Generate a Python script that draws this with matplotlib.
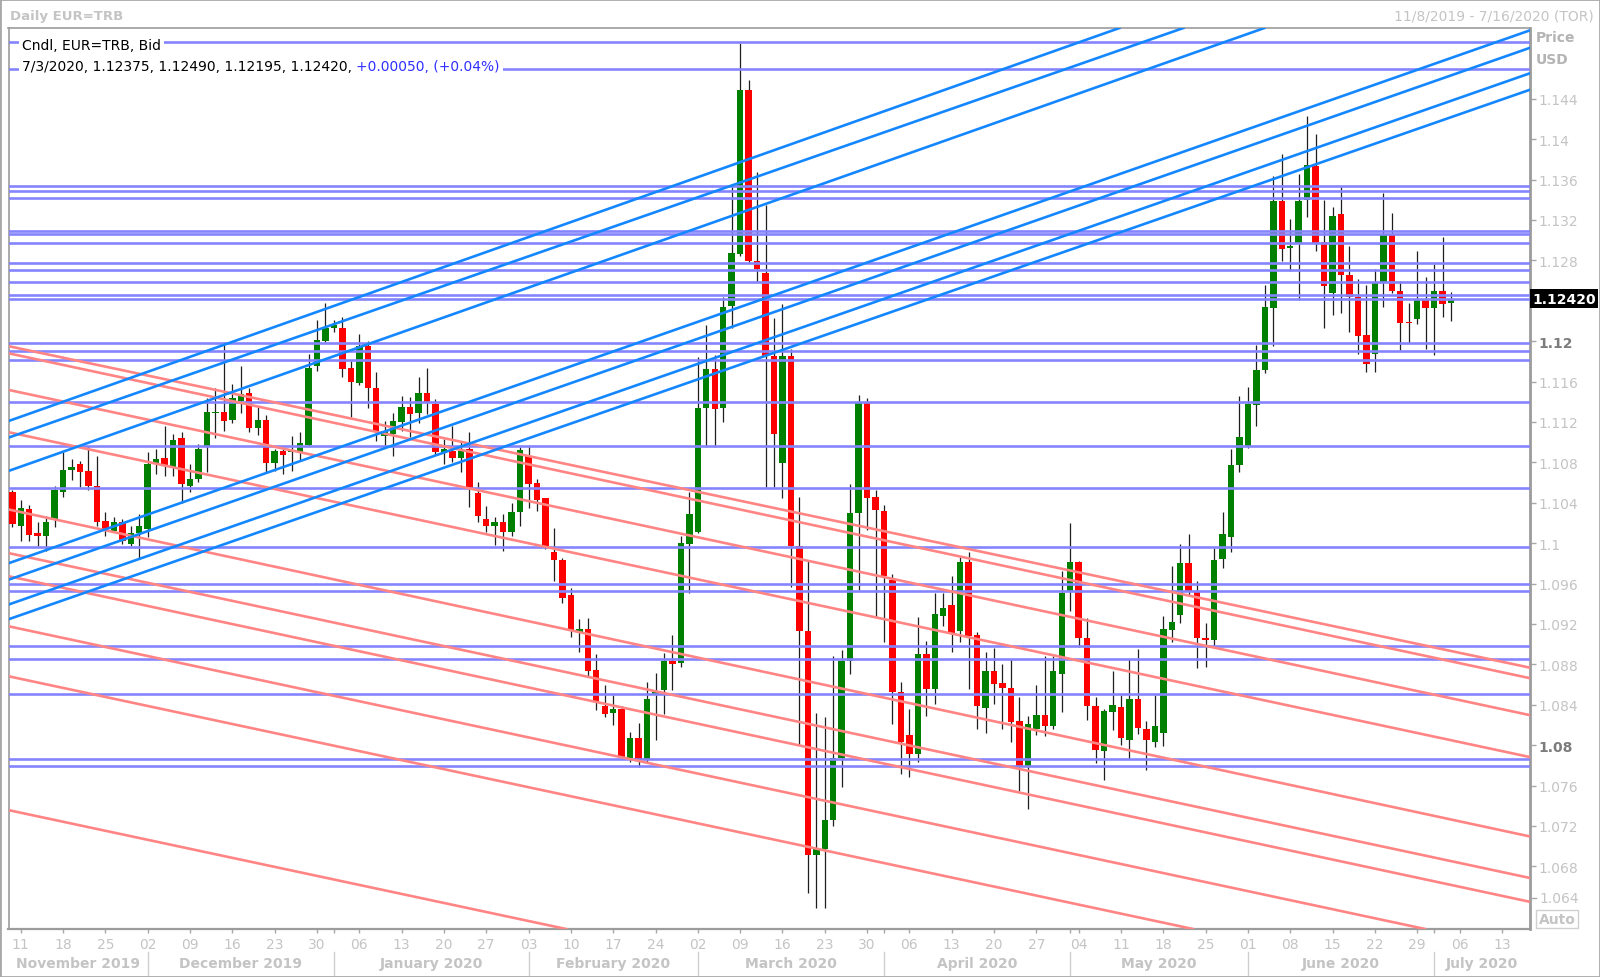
import numpy as np
import pandas as pd
import matplotlib.pyplot as plt
from matplotlib.patches import Rectangle
import matplotlib.transforms as mtransforms

# Daily EUR=TRB candles, one per weekday from 2019-11-08 to 2020-07-03
opens = [1.1051, 1.1017, 1.1034, 1.1010, 1.1007, 1.1024, 1.1051, 1.1072, 1.1078, 1.1071,
         1.1057, 1.1022, 1.1012, 1.1021, 1.0999, 1.1010, 1.1014, 1.1078, 1.1084, 1.1075,
         1.1104, 1.1057, 1.1064, 1.1096, 1.1129, 1.1130, 1.1122, 1.1141, 1.1149, 1.1114,
         1.1122, 1.1079, 1.1091, 1.1090, 1.1090, 1.1097, 1.1175, 1.1200, 1.1213, 1.1213,
         1.1173, 1.1159, 1.1195, 1.1154, 1.1106, 1.1108, 1.1120, 1.1135, 1.1129, 1.1149,
         1.1138, 1.1090, 1.1091, 1.1084, 1.1093, 1.1050, 1.1024, 1.1017, 1.1021, 1.1011,
         1.1031, 1.1086, 1.1060, 1.1045, 1.0991, 1.0983, 1.0949, 1.0912, 1.0915, 1.0874,
         1.0839, 1.0832, 1.0836, 1.0787, 1.0807, 1.0786, 1.0850, 1.0855, 1.0883, 1.0881,
         1.0999, 1.1011, 1.1134, 1.1172, 1.1134, 1.1235, 1.1286, 1.1449, 1.1279, 1.1267,
         1.1185, 1.1079, 1.1185, 1.0997, 1.0913, 1.0691, 1.0697, 1.0726, 1.0787, 1.0883,
         1.1030, 1.1139, 1.1046, 1.1032, 1.0964, 1.0853, 1.0810, 1.0791, 1.0890, 1.0856,
         1.0928, 1.0939, 1.0913, 1.0981, 1.0909, 1.0837, 1.0873, 1.0862, 1.0857, 1.0824,
         1.0779, 1.0816, 1.0830, 1.0819, 1.0870, 1.0953, 1.0981, 1.0906, 1.0839, 1.0794,
         1.0833, 1.0838, 1.0805, 1.0846, 1.0816, 1.0803, 1.0812, 1.0914, 1.0929, 1.0980,
         1.0953, 1.0906, 1.0904, 1.0984, 1.1006, 1.1077, 1.1096, 1.1137, 1.1171, 1.1233,
         1.1339, 1.1292, 1.1297, 1.1340, 1.1373, 1.1298, 1.1248, 1.1326, 1.1265, 1.1244,
         1.1206, 1.1187, 1.1259, 1.1305, 1.1250, 1.1219, 1.1222, 1.1242, 1.1233, 1.1250,
         1.12375]
highs = [1.1053, 1.1043, 1.1038, 1.1021, 1.1027, 1.1057, 1.1090, 1.1083, 1.1081, 1.1096,
         1.1086, 1.1031, 1.1026, 1.1024, 1.1017, 1.1029, 1.1090, 1.1093, 1.1116, 1.1108,
         1.1110, 1.1078, 1.1098, 1.1144, 1.1154, 1.1199, 1.1158, 1.1175, 1.1154, 1.1135,
         1.1127, 1.1093, 1.1095, 1.1106, 1.1110, 1.1187, 1.1221, 1.1238, 1.1221, 1.1224,
         1.1180, 1.1207, 1.1200, 1.1169, 1.1121, 1.1129, 1.1146, 1.1145, 1.1164, 1.1173,
         1.1143, 1.1103, 1.1116, 1.1100, 1.1110, 1.1061, 1.1037, 1.1026, 1.1029, 1.1040,
         1.1095, 1.1097, 1.1064, 1.1045, 1.1015, 1.0985, 1.0956, 1.0925, 1.0926, 1.0890,
         1.0860, 1.0850, 1.0839, 1.0813, 1.0822, 1.0863, 1.0871, 1.0891, 1.0909, 1.1007,
         1.1051, 1.1184, 1.1216, 1.1186, 1.1244, 1.1355, 1.1495, 1.1459, 1.1367, 1.1335,
         1.1223, 1.1237, 1.1192, 1.1046, 1.0982, 1.0832, 1.0828, 1.0888, 1.0894, 1.1059,
         1.1147, 1.1144, 1.1053, 1.1038, 1.0969, 1.0863, 1.0836, 1.0927, 1.0903, 1.0951,
         1.0951, 1.0967, 1.0986, 1.0991, 1.0912, 1.0892, 1.0896, 1.0880, 1.0885, 1.0848,
         1.0829, 1.0860, 1.0888, 1.0888, 1.0972, 1.1020, 1.0982, 1.0926, 1.0848, 1.0836,
         1.0873, 1.0850, 1.0885, 1.0895, 1.0824, 1.0850, 1.0928, 1.0977, 1.0999, 1.1009,
         1.0963, 1.0921, 1.0995, 1.1031, 1.1093, 1.1146, 1.1155, 1.1196, 1.1256, 1.1363,
         1.1385, 1.1321, 1.1365, 1.1423, 1.1405, 1.1340, 1.1333, 1.1353, 1.1294, 1.1262,
         1.1256, 1.1271, 1.1347, 1.1327, 1.1260, 1.1238, 1.1289, 1.1263, 1.1276, 1.1303,
         1.12490]
lows = [1.1016, 1.1002, 1.1002, 1.0997, 1.0992, 1.1016, 1.1046, 1.1063, 1.1056, 1.1053,
        1.1017, 1.1007, 1.1011, 1.0999, 1.0997, 1.0984, 1.1006, 1.1068, 1.1066, 1.1066,
        1.1040, 1.1051, 1.1061, 1.1070, 1.1104, 1.1111, 1.1119, 1.1129, 1.1110, 1.1107,
        1.1070, 1.1071, 1.1068, 1.1071, 1.1081, 1.1096, 1.1170, 1.1199, 1.1209, 1.1164,
        1.1125, 1.1157, 1.1134, 1.1101, 1.1095, 1.1086, 1.1111, 1.1105, 1.1119, 1.1128,
        1.1087, 1.1078, 1.1080, 1.1070, 1.1036, 1.1021, 1.1011, 1.0998, 1.0992, 1.1007,
        1.1017, 1.1035, 1.1032, 1.0994, 1.0963, 1.0941, 1.0907, 1.0892, 1.0868, 1.0835,
        1.0828, 1.0820, 1.0786, 1.0783, 1.0778, 1.0783, 1.0805, 1.0831, 1.0855, 1.0877,
        1.0951, 1.1010, 1.1095, 1.1095, 1.1120, 1.1213, 1.1284, 1.1277, 1.1259, 1.1056,
        1.1056, 1.1045, 1.0957, 1.0800, 1.0654, 1.0639, 1.0639, 1.0720, 1.0759, 1.0870,
        1.0954, 1.1013, 1.0927, 1.0902, 1.0821, 1.0771, 1.0768, 1.0783, 1.0829, 1.0841,
        1.0918, 1.0892, 1.0902, 1.0856, 1.0816, 1.0812, 1.0841, 1.0816, 1.0803, 1.0755,
        1.0737, 1.0810, 1.0809, 1.0816, 1.0833, 1.0933, 1.0897, 1.0825, 1.0782, 1.0766,
        1.0815, 1.0800, 1.0786, 1.0811, 1.0775, 1.0798, 1.0799, 1.0902, 1.0921, 1.0948,
        1.0876, 1.0877, 1.0896, 1.0975, 1.0991, 1.1070, 1.1094, 1.1116, 1.1168, 1.1195,
        1.1279, 1.1269, 1.1241, 1.1323, 1.1289, 1.1213, 1.1226, 1.1228, 1.1209, 1.1187,
        1.1169, 1.1169, 1.1234, 1.1248, 1.1191, 1.1198, 1.1217, 1.1192, 1.1186, 1.1224,
        1.12195]
closes = [1.1019, 1.1035, 1.1008, 1.1007, 1.1021, 1.1053, 1.1072, 1.1075, 1.1070, 1.1057,
          1.1021, 1.1014, 1.1021, 1.1002, 1.1010, 1.1017, 1.1078, 1.1083, 1.1076, 1.1102,
          1.1059, 1.1064, 1.1093, 1.1130, 1.1130, 1.1121, 1.1144, 1.1148, 1.1114, 1.1122,
          1.1079, 1.1091, 1.1087, 1.1091, 1.1099, 1.1173, 1.1201, 1.1213, 1.1216, 1.1172,
          1.1160, 1.1195, 1.1154, 1.1110, 1.1111, 1.1121, 1.1135, 1.1128, 1.1149, 1.1140,
          1.1090, 1.1093, 1.1084, 1.1091, 1.1055, 1.1027, 1.1017, 1.1021, 1.1011, 1.1031,
          1.1092, 1.1059, 1.1043, 1.0997, 1.0983, 1.0946, 1.0913, 1.0915, 1.0873, 1.0843,
          1.0831, 1.0836, 1.0787, 1.0807, 1.0786, 1.0846, 1.0853, 1.0883, 1.0880, 1.1000,
          1.1029, 1.1134, 1.1172, 1.1133, 1.1234, 1.1287, 1.1449, 1.1279, 1.1271, 1.1185,
          1.1108, 1.1185, 1.0997, 1.0913, 1.0691, 1.0697, 1.0726, 1.0787, 1.0883, 1.1030,
          1.1139, 1.1045, 1.1033, 1.0967, 1.0853, 1.0803, 1.0791, 1.0890, 1.0856, 1.0930,
          1.0936, 1.0910, 1.0981, 1.0908, 1.0839, 1.0873, 1.0861, 1.0857, 1.0823, 1.0778,
          1.0821, 1.0830, 1.0819, 1.0873, 1.0951, 1.0981, 1.0906, 1.0839, 1.0795, 1.0834,
          1.0840, 1.0807, 1.0846, 1.0817, 1.0805, 1.0819, 1.0915, 1.0922, 1.0980, 1.0953,
          1.0906, 1.0904, 1.0983, 1.1009, 1.1077, 1.1105, 1.1138, 1.1171, 1.1234, 1.1339,
          1.1291, 1.1294, 1.1339, 1.1374, 1.1297, 1.1255, 1.1324, 1.1265, 1.1244, 1.1205,
          1.1177, 1.1259, 1.1305, 1.1250, 1.1218, 1.1218, 1.1242, 1.1233, 1.1250, 1.1237,
          1.12420]

first_day = '2019-11-08'
last_day = '2020-07-16'

# horizontal levels drawn on the chart
levels = [1.1496, 1.1469, 1.1354, 1.1349, 1.1342, 1.1309, 1.1306, 1.1297, 1.1277,
          1.1270, 1.1259, 1.1246, 1.1242, 1.1198, 1.1190, 1.1181, 1.1140, 1.1096,
          1.1055, 1.0996, 1.0960, 1.0953, 1.0898, 1.0885, 1.0851, 1.0786, 1.0779]

# rising trend lines: two (bar index, price) anchors each
up_lines = [((-0.47, 1.11208), (130.89, 1.15102)),
            ((-0.47, 1.11044), (138.45, 1.15102)),
            ((-0.47, 1.10714), (148.02, 1.15102)),
            ((34.59, 1.10829), (179.33, 1.15077)),
            ((34.59, 1.10664), (179.33, 1.14904)),
            ((34.59, 1.10417), (179.33, 1.14652)),
            ((34.59, 1.10268), (179.33, 1.14489))]

# falling trend lines
down_lines = [((33.40, 1.11351), (179.33, 1.08767)),
              ((33.40, 1.11274), (179.33, 1.08663)),
              ((33.40, 1.10911), (179.33, 1.08297)),
              ((33.40, 1.10493), (179.33, 1.07882)),
              ((33.40, 1.09724), (179.33, 1.07096)),
              ((33.40, 1.09296), (179.33, 1.06685)),
              ((33.40, 1.09066), (179.33, 1.06449)),
              ((33.40, 1.08571), (166.93, 1.06180)),
              ((33.40, 1.08077), (139.51, 1.06180)),
              ((-0.45, 1.07357), (65.43, 1.06180))]

price_ticks = [1.068, 1.072, 1.076, 1.08, 1.084, 1.088, 1.092, 1.096, 1.1, 1.104,
               1.108, 1.112, 1.116, 1.12, 1.124, 1.128, 1.132, 1.136, 1.14, 1.144]
tick_text = ['1.068', '1.072', '1.076', '1.08', '1.084', '1.088', '1.092', '1.096',
             '1.1', '1.104', '1.108', '1.112', '1.116', '1.12', '', '1.128', '1.132',
             '1.136', '1.14', '1.144']
bold_ticks = ['1.08', '1.12']
bottom_label = '1.064'

last_price = 1.12420
legend_main = '7/3/2020, 1.12375, 1.12490, 1.12195, 1.12420,'
legend_change = '+0.00050, (+0.04%)'

GREEN = '#008000'
RED = '#ff0000'
LEVEL = '#8484ff'
UPC = '#1487ff'
DOWNC = '#ff8585'
LIGHT = '#c4c4c4'

W, H = 1600, 978
fig = plt.figure(figsize=(W / 100, H / 100), dpi=100)
fx = lambda px: px / W
fy = lambda py: 1 - py / H

ax = fig.add_axes([fx(8.5), fy(930), fx(1530) - fx(8.5), fy(29) - fy(930)])
ax.set_xlim(-0.449, 179.33)
ax.set_ylim(1.0618, 1.1510)

o = np.array(opens)
h = np.array(highs)
l = np.array(lows)
c = np.array(closes)
idx = np.arange(len(o))
up = c >= o
cols = np.where(up, GREEN, RED)

ax.vlines(idx, l, h, color='#1e1e1e', lw=0.9, zorder=2)
body = np.maximum(np.abs(c - o), 0.00008)
ax.bar(idx, body, bottom=np.minimum(o, c), width=0.76, color=cols, lw=0, zorder=3)

for lv in levels:
    ax.axhline(lv, color=LEVEL, lw=1.9, zorder=4)
for p1, p2 in down_lines:
    ax.axline(p1, p2, color=DOWNC, lw=1.9, zorder=5)
for p1, p2 in up_lines:
    ax.axline(p1, p2, color=UPC, lw=1.9, zorder=5)

for s in ax.spines.values():
    s.set_color('#9c9c9c')
    s.set_linewidth(1.2)
ax.spines['right'].set_linewidth(2)
ax.spines['bottom'].set_linewidth(1.6)

# price axis on the right
ax.yaxis.tick_right()
ax.set_yticks(price_ticks)
ax.set_yticklabels(tick_text)
ax.tick_params(axis='y', length=4, width=1, color='#a8a8a8', pad=2,
               labelsize=10, labelcolor=LIGHT)
for lbl in ax.get_yticklabels():
    if lbl.get_text() in bold_ticks:
        lbl.set_fontweight('bold')
        lbl.set_color('#7c7c7c')
# lowest label sits a little above its true level, clear of the "Auto" button
fig.add_artist(plt.Line2D([fx(1531), fx(1536)], [fy(899), fy(899)], color='#a8a8a8', lw=1))
fig.text(fx(1539), fy(899), bottom_label, ha='left', va='center', fontsize=10, color=LIGHT)

# date axis
dates = pd.bdate_range(first_day, last_day)
mondays = [i for i, d in enumerate(dates) if d.weekday() == 0]
ax.set_xticks(mondays)
ax.set_xticklabels([dates[i].strftime('%d') for i in mondays])
month_starts = [i for i in range(1, len(dates)) if dates[i].month != dates[i - 1].month]
ax.set_xticks(month_starts, minor=True)
ax.tick_params(axis='x', which='both', length=3, width=1, color='#a8a8a8',
               pad=3, labelsize=10, labelcolor=LIGHT)

xl = ax.get_xlim()
bt = mtransforms.blended_transform_factory(ax.transData, fig.transFigure)
edges = [xl[0]] + month_starts + [xl[1]]
for k in range(len(edges) - 1):
    d = dates[max(int(np.ceil(edges[k])), 0)]
    ax.text((edges[k] + edges[k + 1]) / 2, fy(964), d.strftime('%B %Y'), transform=bt,
            ha='center', va='center', fontsize=10, fontweight='bold', color=LIGHT,
            clip_on=False)
for m in month_starts:
    ax.plot([m, m], [fy(953), fy(976)], transform=bt, color='#cfcfcf', lw=1, clip_on=False)

# legend lines inside the plot
t1 = ax.text(fx(22), fy(46), 'Cndl, EUR=TRB, Bid', transform=fig.transFigure, ha='left',
             va='center', fontsize=10, color='black', zorder=10,
             bbox=dict(fc='white', ec='none', pad=2))
t2 = ax.text(fx(22), fy(67), legend_main, transform=fig.transFigure, ha='left',
             va='center', fontsize=10, color='black', zorder=10,
             bbox=dict(fc='white', ec='none', pad=2))
ax.annotate(legend_change, xy=(1, 0.5), xycoords=t2, xytext=(3.2, 0),
            textcoords='offset points', ha='left', va='center', fontsize=10,
            color='#3030ff', zorder=10, bbox=dict(fc='white', ec='none', pad=2))

# header texts
fig.text(fx(10), fy(16.5), 'Daily EUR=TRB', ha='left', va='center', fontsize=9.5,
         fontweight='bold', color=LIGHT)
fig.text(fx(1594), fy(16.5), '11/8/2019 - 7/16/2020 (TOR)', ha='right', va='center',
         fontsize=10, color=LIGHT)
fig.text(fx(1536), fy(38), 'Price', ha='left', va='center', fontsize=10,
         fontweight='bold', color='#b4b4b4')
fig.text(fx(1536), fy(60), 'USD', ha='left', va='center', fontsize=10,
         fontweight='bold', color='#b4b4b4')

# last price tag
ylast = ax.transData.transform((0, last_price))[1] / H
fig.patches.append(Rectangle((fx(1530), ylast - 9.5 / H), 68 / W, 19 / H,
                             transform=fig.transFigure, fc='black', ec='none'))
fig.text(fx(1564), ylast, f'{last_price:.5f}', ha='center', va='center', fontsize=10,
         fontweight='bold', color='white')

# "Auto" button
fig.patches.append(Rectangle((fx(1536), fy(929)), 42 / W, 18 / H,
                             transform=fig.transFigure, fc='white', ec='#d0d0d0', lw=1))
fig.text(fx(1557), fy(920), 'Auto', ha='center', va='center', fontsize=10,
         fontweight='bold', color=LIGHT)

# outer frame
fig.patches.append(Rectangle((0, 0), 1, 1, transform=fig.transFigure, fill=False,
                             ec='#a8a8a8', lw=2))

fig.savefig('out.png', dpi=100)
